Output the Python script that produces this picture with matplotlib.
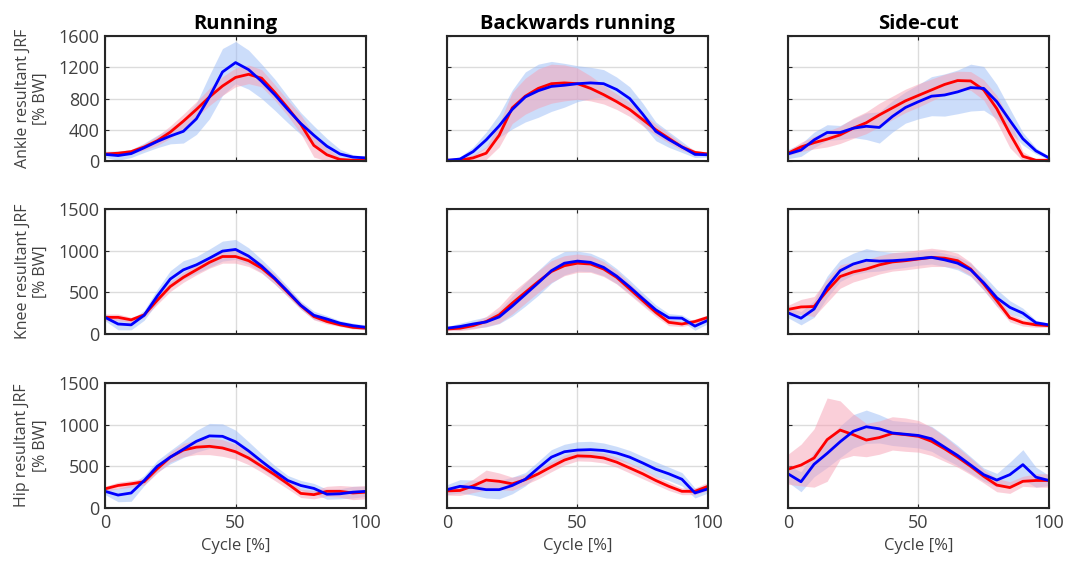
import matplotlib
matplotlib.use("Agg")
import matplotlib.pyplot as plt
import numpy as np

plt.rcParams['font.family'] = ['Open Sans', 'DejaVu Sans']

# Gait cycle sample points (%)
cycle = np.arange(0, 101, 5)

tasks = ["Running", "Backwards running", "Side-cut"]
joints = ["Ankle", "Knee", "Hip"]
y_limits = [1600, 1500, 1500]
y_ticks = [[0, 400, 800, 1200, 1600], [0, 500, 1000, 1500], [0, 500, 1000, 1500]]
x_ticks = [0, 50, 100]

# ---- Ankle ----
run_ankle_red = [90, 100, 120, 180, 260, 370, 510, 660, 820, 960, 1070, 1110, 1060, 880, 680, 470, 200, 80, 20, 10, 10]
run_ankle_red_sd = [20, 20, 30, 40, 60, 80, 90, 100, 110, 120, 120, 120, 110, 100, 100, 120, 150, 90, 30, 10, 10]
run_ankle_blue = [85, 70, 95, 170, 250, 320, 380, 540, 820, 1140, 1260, 1170, 1020, 850, 660, 480, 330, 190, 90, 50, 40]
run_ankle_blue_sd = [40, 60, 50, 60, 80, 100, 150, 200, 280, 300, 270, 250, 220, 200, 170, 140, 120, 100, 60, 30, 20]

back_ankle_red = [10, 10, 40, 100, 330, 680, 830, 930, 990, 1000, 990, 930, 850, 760, 660, 530, 400, 290, 180, 110, 90]
back_ankle_red_sd = [10, 20, 40, 80, 150, 200, 230, 250, 250, 230, 200, 160, 120, 100, 90, 80, 70, 60, 40, 30, 20]
back_ankle_blue = [10, 25, 120, 270, 450, 660, 820, 900, 955, 970, 990, 1000, 990, 915, 800, 600, 380, 275, 180, 85, 80]
back_ankle_blue_sd = [10, 30, 60, 100, 150, 250, 320, 340, 320, 280, 230, 200, 180, 160, 150, 140, 120, 100, 70, 40, 30]

cut_ankle_red = [100, 180, 235, 280, 335, 420, 490, 590, 680, 770, 840, 910, 980, 1030, 1025, 910, 670, 350, 60, 10, 10]
cut_ankle_red_sd = [30, 60, 80, 100, 110, 130, 140, 150, 150, 150, 150, 140, 130, 120, 120, 130, 170, 180, 60, 10, 10]
cut_ankle_blue = [90, 140, 270, 365, 365, 420, 445, 430, 570, 685, 760, 830, 845, 885, 940, 930, 760, 520, 285, 130, 40]
cut_ankle_blue_sd = [60, 80, 100, 100, 90, 120, 170, 200, 200, 200, 220, 250, 270, 280, 300, 280, 220, 150, 80, 40, 20]

# ---- Knee ----
run_knee_red = [200, 200, 170, 230, 405, 570, 680, 770, 860, 930, 930, 880, 790, 660, 500, 340, 210, 150, 110, 80, 70]
run_knee_red_sd = [40, 40, 30, 30, 50, 60, 60, 60, 70, 80, 80, 70, 60, 60, 50, 40, 40, 30, 20, 20, 20]
run_knee_blue = [200, 120, 110, 225, 455, 660, 770, 830, 910, 995, 1015, 935, 815, 670, 510, 345, 225, 180, 130, 100, 80]
run_knee_blue_sd = [40, 70, 60, 60, 80, 100, 110, 100, 110, 120, 120, 100, 80, 70, 60, 50, 50, 40, 30, 30, 30]

back_knee_red = [60, 70, 100, 150, 230, 370, 500, 630, 750, 820, 850, 840, 780, 680, 540, 400, 260, 140, 120, 150, 200]
back_knee_red_sd = [20, 30, 40, 60, 100, 130, 130, 130, 130, 120, 110, 100, 90, 80, 70, 60, 50, 40, 30, 30, 30]
back_knee_blue = [70, 90, 120, 145, 205, 335, 475, 615, 760, 850, 875, 860, 800, 695, 565, 425, 290, 195, 190, 95, 165]
back_knee_blue_sd = [20, 40, 50, 60, 80, 120, 140, 150, 150, 140, 120, 110, 100, 90, 80, 70, 60, 50, 40, 50, 40]

cut_knee_red = [295, 325, 330, 520, 690, 745, 780, 830, 865, 880, 900, 920, 910, 880, 780, 600, 400, 195, 135, 110, 100]
cut_knee_red_sd = [50, 90, 120, 140, 140, 120, 110, 110, 110, 110, 110, 110, 100, 90, 80, 70, 70, 50, 40, 30, 20]
cut_knee_blue = [255, 190, 300, 565, 760, 840, 885, 875, 880, 890, 905, 920, 890, 850, 770, 615, 435, 320, 250, 135, 110]
cut_knee_blue_sd = [60, 80, 100, 130, 130, 130, 140, 120, 100, 90, 80, 80, 80, 80, 80, 90, 100, 80, 60, 30, 20]

# ---- Hip ----
run_hip_red = [230, 270, 290, 315, 470, 610, 695, 730, 740, 720, 675, 600, 500, 400, 290, 175, 160, 200, 200, 180, 190]
run_hip_red_sd = [30, 40, 40, 40, 50, 60, 80, 90, 100, 100, 90, 80, 70, 70, 60, 50, 50, 60, 70, 80, 80]
run_hip_blue = [200, 155, 180, 330, 500, 610, 705, 800, 865, 860, 795, 685, 560, 440, 330, 270, 235, 165, 170, 190, 200]
run_hip_blue_sd = [40, 80, 100, 60, 70, 80, 100, 130, 150, 150, 140, 110, 90, 70, 60, 60, 60, 60, 60, 70, 60]

back_hip_red = [205, 210, 265, 335, 320, 290, 340, 410, 495, 575, 625, 620, 600, 550, 480, 410, 330, 260, 200, 200, 260]
back_hip_red_sd = [50, 60, 80, 120, 100, 80, 60, 60, 60, 60, 60, 60, 60, 60, 60, 60, 50, 50, 40, 40, 50]
back_hip_blue = [220, 260, 245, 220, 220, 270, 345, 480, 610, 675, 695, 700, 690, 660, 610, 540, 465, 410, 345, 180, 230]
back_hip_blue_sd = [60, 80, 90, 100, 110, 100, 80, 80, 90, 90, 100, 100, 90, 80, 80, 80, 90, 80, 80, 60, 50]

cut_hip_red = [465, 515, 600, 820, 935, 880, 815, 845, 895, 880, 860, 800, 710, 610, 500, 380, 275, 245, 320, 330, 330]
cut_hip_red_sd = [180, 250, 350, 500, 350, 250, 200, 200, 200, 200, 190, 170, 150, 120, 100, 80, 80, 70, 60, 80, 80]
cut_hip_blue = [410, 315, 525, 655, 795, 920, 975, 950, 900, 885, 870, 830, 730, 630, 515, 400, 335, 400, 520, 370, 330]
cut_hip_blue_sd = [100, 120, 150, 170, 190, 200, 200, 170, 150, 150, 150, 150, 140, 120, 100, 80, 80, 150, 180, 120, 60]

panels = [
    [(run_ankle_red, run_ankle_red_sd, run_ankle_blue, run_ankle_blue_sd),
     (back_ankle_red, back_ankle_red_sd, back_ankle_blue, back_ankle_blue_sd),
     (cut_ankle_red, cut_ankle_red_sd, cut_ankle_blue, cut_ankle_blue_sd)],
    [(run_knee_red, run_knee_red_sd, run_knee_blue, run_knee_blue_sd),
     (back_knee_red, back_knee_red_sd, back_knee_blue, back_knee_blue_sd),
     (cut_knee_red, cut_knee_red_sd, cut_knee_blue, cut_knee_blue_sd)],
    [(run_hip_red, run_hip_red_sd, run_hip_blue, run_hip_blue_sd),
     (back_hip_red, back_hip_red_sd, back_hip_blue, back_hip_blue_sd),
     (cut_hip_red, cut_hip_red_sd, cut_hip_blue, cut_hip_blue_sd)],
]

fig = plt.figure(figsize=(10.75, 5.7), dpi=100)

lefts = [0.0977, 0.4158, 0.733]
bottoms = [0.7175, 0.414, 0.1088]
w, h = 0.2428, 0.2193

text_col = "#404040"
frame_col = "#262626"

for r in range(3):
    for c in range(3):
        ax = fig.add_axes([lefts[c], bottoms[r], w, h])
        red, red_sd, blue, blue_sd = [np.array(a, dtype=float) for a in panels[r][c]]

        ax.fill_between(cycle, np.clip(blue - blue_sd, 0, None), blue + blue_sd,
                        color="#9bbcf7", alpha=0.5, lw=0)
        ax.fill_between(cycle, np.clip(red - red_sd, 0, None), red + red_sd,
                        color="#f7a0b4", alpha=0.5, lw=0)
        ax.plot(cycle, red, color="#ff0000", lw=2)
        ax.plot(cycle, blue, color="#0000ff", lw=2)

        ax.set_xlim(0, 100)
        ax.set_ylim(0, y_limits[r])
        ax.set_xticks(x_ticks)
        ax.set_yticks(y_ticks[r])
        ax.grid(True, color="#dcdcdc", lw=1)
        ax.set_axisbelow(True)
        ax.tick_params(direction="in", top=True, right=True, length=3, pad=4,
                       colors=frame_col, labelcolor=text_col, labelsize=13)
        for s in ax.spines.values():
            s.set_color(frame_col)
            s.set_linewidth(1.5)

        if c == 0:
            ax.set_ylabel(f"{joints[r]} resultant JRF\n[% BW]", fontsize=11.5,
                          color=text_col, labelpad=7)
        else:
            ax.set_yticklabels([])
        if r == 2:
            ax.set_xlabel("Cycle [%]", fontsize=12, color=text_col, labelpad=5)
        else:
            ax.set_xticklabels([])
        if r == 0:
            ax.set_title(tasks[c], fontsize=14.5, fontweight="bold", pad=5)

fig.savefig("out.png", dpi=100)
